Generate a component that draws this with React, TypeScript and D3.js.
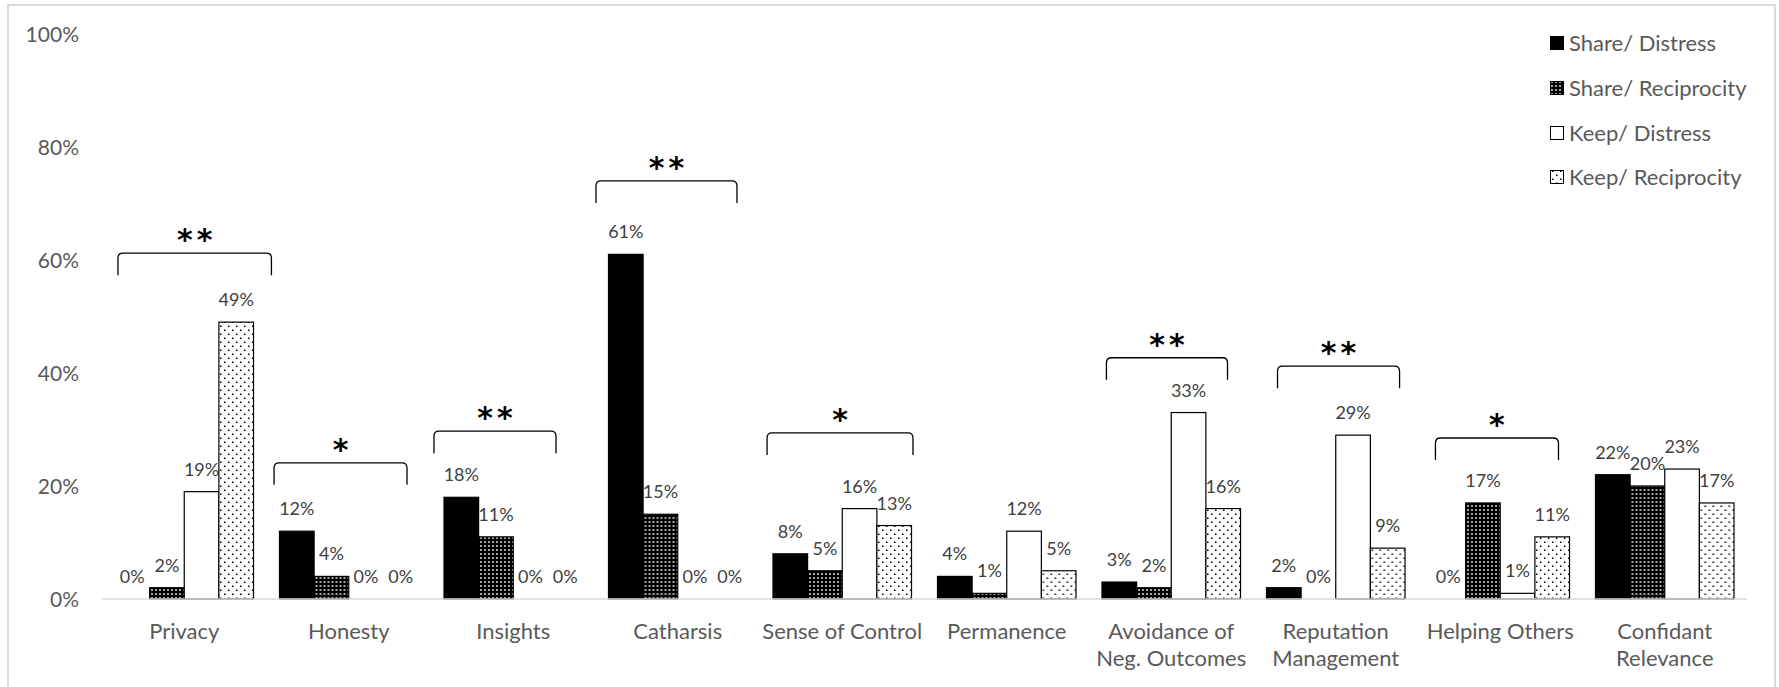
import React from "react";
import * as d3 from "d3";

// Reasons for sharing / keeping secrets, by condition
const categories = [
  "Privacy",
  "Honesty",
  "Insights",
  "Catharsis",
  "Sense of Control",
  "Permanence",
  "Avoidance of\nNeg. Outcomes",
  "Reputation\nManagement",
  "Helping Others",
  "Confidant\nRelevance",
];

const seriesNames = ["Share/ Distress", "Share/ Reciprocity", "Keep/ Distress", "Keep/ Reciprocity"];

const shareDistress = [0, 12, 18, 61, 8, 4, 3, 2, 0, 22];
const shareReciprocity = [2, 4, 11, 15, 5, 1, 2, 0, 17, 20];
const keepDistress = [19, 0, 0, 0, 16, 12, 33, 29, 1, 23];
const keepReciprocity = [49, 0, 0, 0, 13, 5, 16, 9, 11, 17];

const seriesValues = [shareDistress, shareReciprocity, keepDistress, keepReciprocity];

const yTicks = [0, 20, 40, 60, 80, 100];

// Significance markers above category groups
const sigCategories = [0, 1, 2, 3, 4, 6, 7, 8];
const sigStars = ["**", "*", "**", "**", "*", "**", "**", "*"];
const sigLevels = [61.2, 24.1, 29.7, 74, 29.4, 42.7, 41.2, 28.5];

// Bracket extents as fractions of the category band
const bracketFrom = [0.097, 0.046, 0.018, 0.003, 0.043, 0.106, 0.146, 0.106];
const bracketTo = [1.03, 0.854, 0.76, 0.86, 0.93, 0.842, 0.888, 0.854];

const W = 1779;
const H = 687;
const FONT = "Lato, 'Open Sans', sans-serif";
const fills = ["#000", "url(#patShareRecip)", "#fff", "url(#patKeepRecip)"];

export default function App() {
  const x0 = d3.scaleBand<number>().domain(d3.range(categories.length)).range([102, 1747]).padding(0);
  const bw = x0.bandwidth() / 4.75;
  const x1 = d3
    .scaleBand<number>()
    .domain(d3.range(seriesNames.length))
    .range([bw * 0.375, x0.bandwidth() - bw * 0.375])
    .padding(0);
  const y = d3.scaleLinear().domain([0, 100]).range([599, 34]);

  const legendY = [43, 88, 133, 177];
  const starSpacing = 4;

  return (
    <div style={{ position: "fixed", left: 0, top: 0 }}>
      <svg width={W} height={H} style={{ display: "block", background: "#fff" }}>
        <defs>
          <pattern id="patShareRecip" width={4} height={4} patternUnits="userSpaceOnUse">
            <rect width={4} height={4} fill="#000" />
            <rect x={1.2} y={1.2} width={1.6} height={1.6} fill="#fff" />
          </pattern>
          <pattern id="patKeepRecip" width={8} height={8} patternUnits="userSpaceOnUse">
            <rect width={8} height={8} fill="#fff" />
            <rect x={2} y={1.5} width={1.5} height={1.5} fill="#000" />
            <rect x={6} y={5.5} width={1.5} height={1.5} fill="#000" />
          </pattern>
        </defs>

        {/* chart area frame */}
        <rect x={8} y={5} width={1767} height={720} fill="none" stroke="#d9d9d9" strokeWidth={2} />

        {/* y axis labels */}
        {yTicks.map((t) => (
          <text
            key={t}
            x={79}
            y={y(t)}
            dy="0.36em"
            textAnchor="end"
            fontFamily={FONT}
            fontSize={21}
            fill="#595959"
          >
            {t}%
          </text>
        ))}

        {/* bars */}
        {categories.map((c, ci) => (
          <g key={c} transform={`translate(${x0(ci)},0)`}>
            {seriesValues.map((vals, si) => {
              const v = vals[ci];
              const bx = x1(si)!;
              return (
                <g key={si}>
                  {v > 0 && (
                    <rect
                      x={bx}
                      y={y(v)}
                      width={x1.bandwidth()}
                      height={y(0) - y(v)}
                      fill={fills[si]}
                      stroke="#000"
                      strokeWidth={1.2}
                    />
                  )}
                  <text
                    x={bx + x1.bandwidth() / 2}
                    y={y(v) - 16}
                    textAnchor="middle"
                    fontFamily={FONT}
                    fontSize={18}
                    fill="#404040"
                  >
                    {v}%
                  </text>
                </g>
              );
            })}
          </g>
        ))}

        {/* baseline */}
        <line x1={102} x2={1747} y1={y(0)} y2={y(0)} stroke="#d9d9d9" strokeWidth={1.5} />

        {/* category labels */}
        {categories.map((c, ci) => (
          <text
            key={c}
            x={x0(ci)! + x0.bandwidth() / 2}
            y={631}
            textAnchor="middle"
            fontFamily={FONT}
            fontSize={22}
            fill="#595959"
          >
            {c.split("\n").map((line, li) => (
              <tspan key={li} x={x0(ci)! + x0.bandwidth() / 2} dy={li === 0 ? "0.36em" : 27}>
                {line}
              </tspan>
            ))}
          </text>
        ))}

        {/* significance brackets */}
        {sigCategories.map((ci, k) => {
          const left = x0(ci)! + bracketFrom[k] * x0.bandwidth();
          const right = x0(ci)! + bracketTo[k] * x0.bandwidth();
          const top = y(sigLevels[k]);
          const bot = top + 22;
          const r = 5;
          const path = d3.path();
          path.moveTo(left, bot);
          path.lineTo(left, top + r);
          path.quadraticCurveTo(left, top, left + r, top);
          path.lineTo(right - r, top);
          path.quadraticCurveTo(right, top, right, top + r);
          path.lineTo(right, bot);
          return (
            <g key={k}>
              <path d={path.toString()} fill="none" stroke="#000" strokeWidth={1.3} />
              <text
                x={(left + right) / 2 + starSpacing / 2}
                y={top - 19 + 16}
                textAnchor="middle"
                fontFamily="'DejaVu Sans', sans-serif"
                fontWeight="bold"
                fontSize={30}
                letterSpacing={starSpacing}
                fill="#000"
              >
                {sigStars[k]}
              </text>
            </g>
          );
        })}

        {/* legend */}
        {seriesNames.map((s, si) => (
          <g key={s} transform={`translate(1550,${legendY[si]})`}>
            <rect x={0.5} y={-6.5} width={13} height={13} fill={fills[si]} stroke="#000" strokeWidth={1} />
            <text x={19} y={0} dy="0.36em" fontFamily={FONT} fontSize={22} fill="#595959">
              {s}
            </text>
          </g>
        ))}
      </svg>
    </div>
  );
}
